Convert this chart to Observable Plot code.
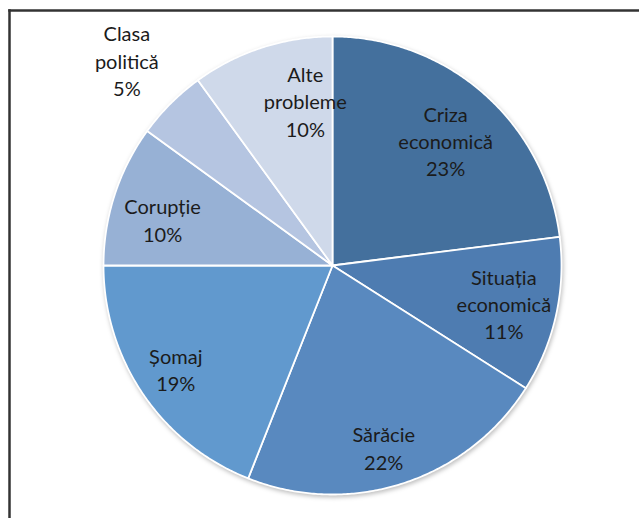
<!DOCTYPE html>
<html>
<head>
<meta charset="utf-8">
<script src="https://cdn.jsdelivr.net/npm/d3@7"></script>
<script src="https://cdn.jsdelivr.net/npm/@observablehq/plot@0.6"></script>
<style>
  html, body { margin: 0; padding: 0; background: #fff; }
  #chart { width: 639px; height: 518px; overflow: hidden; }
</style>
</head>
<body>
<div id="chart"></div>
<script>
const categories = ["Criza economică", "Situația economică", "Sărăcie", "Șomaj", "Corupție", "Clasa politică", "Alte probleme"];
const values = [23, 11, 22, 19, 10, 5, 10];
const labelNames = ["Criza\neconomică", "Situația\neconomică", "Sărăcie", "Șomaj", "Corupție", "Clasa\npolitică", "Alte\nprobleme"];

const palette = ["#44709d", "#4e7cb1", "#5989bf", "#6199ce", "#97b1d5", "#b5c5e1", "#cfd9ea"];

const arcs = d3.pie().sort(null).value(d => d)(values);

// slice outlines in unit-circle data space
const slices = [];
arcs.forEach((a, i) => {
  const cat = categories[i];
  slices.push({cat, x: 0, y: 0});
  const n = Math.max(2, Math.ceil((a.endAngle - a.startAngle) / (Math.PI / 360)));
  for (let k = 0; k <= n; k++) {
    const t = a.startAngle + (a.endAngle - a.startAngle) * k / n;
    slices.push({cat, x: Math.sin(t), y: Math.cos(t)});
  }
});

const labels = arcs.map((a, i) => {
  const mid = (a.startAngle + a.endAngle) / 2;
  const k = values[i] < 6 ? 1.27 : 0.78;
  return {cat: categories[i], text: labelNames[i] + "\n" + values[i] + "%", x: k * Math.sin(mid), y: k * Math.cos(mid)};
});

// best-fit style nudges of the label boxes (pixels)
const nudge = {
  "Criza economică": [-5, 9],
  "Situația economică": [-3, -1],
  "Sărăcie": [-4, 12],
  "Șomaj": [-9, 3],
  "Corupție": [0, 9],
  "Clasa politică": [0, 0],
  "Alte probleme": [28, 5]
};

const cx = 332, cy = 265, R = 229;

const textMarks = categories.map(c => Plot.text(labels.filter(d => d.cat === c), {
  x: "x", y: "y", text: "text", fontSize: 20, lineHeight: 1.36, fill: "#1b1b1b",
  textAnchor: "middle", lineAnchor: "middle", dx: nudge[c][0], dy: nudge[c][1]
}));

const chart = Plot.plot({
  width: 639,
  height: 518,
  marginTop: 10,
  marginLeft: 9,
  marginRight: 0,
  marginBottom: 0,
  style: {fontFamily: "Lato, 'Open Sans', sans-serif", background: "#fff"},
  x: {domain: [-1, 1], range: [cx - R, cx + R], axis: null},
  y: {domain: [-1, 1], range: [cy + R, cy - R], axis: null},
  color: {type: "ordinal", domain: categories, range: palette},
  marks: [
    Plot.frame({anchor: "top", stroke: "#333", strokeWidth: 2.5}),
    Plot.frame({anchor: "left", stroke: "#333", strokeWidth: 2.5}),
    Plot.line(slices, {x: "x", y: "y", z: "cat", fill: "cat", stroke: "#fff", strokeWidth: 1.8, curve: "linear-closed", strokeLinejoin: "round"}),
    ...textMarks
  ]
});

const lineG = chart.querySelector('g[aria-label="line"]');
if (lineG) lineG.style.filter = "drop-shadow(1px 2px 2px rgba(0,0,0,0.25))";

document.getElementById("chart").appendChild(chart);
</script>
</body>
</html>
